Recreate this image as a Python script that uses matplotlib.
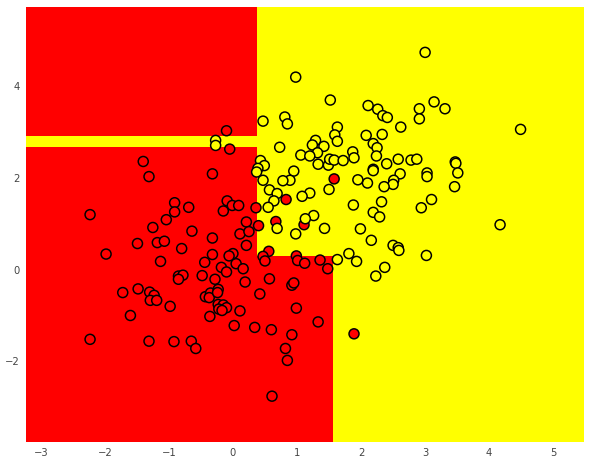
import numpy as np
import matplotlib
matplotlib.use('Agg')
import matplotlib.pyplot as plt
from matplotlib.colors import ListedColormap

# class 0 points (red)
red_x = [-0.10, -0.05, -1.40, -1.31, -0.32, -2.23, -0.91, -0.91, -0.69, -1.04,
         -1.25, -0.64, -0.15, -0.09, -0.01, 0.09, 0.21, 0.40, 0.36, 0.83,
         1.58, 0.67, 1.11, -0.32, -1.49, -1.18, -1.07, -0.80, -1.98, -0.32,
         -1.13, -0.44, -0.18, 0.11, 0.25, 0.21, 0.00, -0.06, 0.05, 0.16,
         -0.10, 0.56, 0.47, 0.50, 0.99, 1.01, 1.12, 1.36, 1.48, -0.85,
         -0.78, -0.85, -0.48, -0.28, 0.19, 0.57, 0.92, 0.95, -1.72, -1.48,
         -1.30, -1.23, -1.29, -1.19, -0.98, -1.60, -0.43, -0.35, -0.23, -0.37,
         -0.24, -0.23, -0.15, -0.10, -0.22, -0.17, -0.36, 0.11, 0.42, 0.99,
         0.02, 0.34, 0.60, 0.92, 1.33, -2.23, -1.31, -0.92, -0.65, -0.58,
         0.82, 0.85, 0.61, 1.89]
red_y = [3.03, 2.63, 2.36, 2.03, 2.09, 1.20, 1.46, 1.26, 1.36, 1.09,
         0.92, 0.84, 1.28, 1.50, 1.40, 1.40, 1.04, 0.96, 1.35, 1.53,
         1.98, 1.05, 0.98, 0.69, 0.57, 0.59, 0.62, 0.46, 0.34, 0.33,
         0.18, 0.16, 0.05, 0.78, 0.83, 0.53, 0.35, 0.30, 0.13, 0.02,
         -0.05, 0.40, 0.29, 0.19, 0.30, 0.20, 0.14, 0.21, 0.02, -0.14,
         -0.12, -0.21, -0.13, -0.21, -0.27, -0.20, -0.34, -0.29, -0.50, -0.42,
         -0.49, -0.56, -0.67, -0.67, -0.80, -1.00, -0.59, -0.51, -0.43, -0.61,
         -0.50, -0.76, -0.77, -0.83, -0.86, -0.89, -1.02, -0.90, -0.53, -0.84,
         -1.22, -1.26, -1.31, -1.42, -1.14, -1.52, -1.56, -1.57, -1.56, -1.72,
         -1.72, -1.98, -2.76, -1.40]

# class 1 points (yellow)
yel_x = [-0.27, -0.27, 0.98, 0.47, 0.81, 0.85, 0.73, 3.00, 1.52, 2.11,
         2.26, 2.34, 2.41, 2.62, 2.91, 2.91, 3.14, 3.31, 4.49, 1.63,
         1.59, 1.63, 2.08, 2.33, 2.19, 2.25, 2.24, 1.29, 1.24, 1.42,
         1.32, 1.06, 1.20, 1.33, 1.49, 1.51, 1.58, 1.72, 1.87, 1.89,
         2.40, 2.19, 2.19, 2.58, 2.78, 2.87, 2.61, 2.51, 2.50, 2.36,
         2.10, 1.95, 1.50, 3.03, 3.03, 3.47, 3.48, 3.51, 3.46, 3.10,
         2.94, 2.32, 2.19, 2.29, 1.88, 1.20, 1.08, 0.95, 0.89, 0.78,
         0.43, 0.49, 0.39, 0.37, 0.47, 0.57, 0.69, 0.64, 0.55, 1.26,
         1.13, 1.43, 1.99, 4.17, 0.98, 2.16, 2.50, 2.58, 2.59, 3.02,
         1.81, 1.63, 1.93, 2.37, 2.23, 0.69]
yel_y = [2.82, 2.71, 4.20, 3.24, 3.33, 3.18, 2.67, 4.74, 3.70, 3.58,
         3.50, 3.36, 3.32, 3.11, 3.51, 3.29, 3.66, 3.51, 3.06, 3.11,
         2.94, 2.80, 2.93, 2.95, 2.75, 2.66, 2.48, 2.82, 2.72, 2.69,
         2.55, 2.50, 2.48, 2.30, 2.28, 2.41, 2.39, 2.38, 2.57, 2.44,
         2.31, 2.19, 2.16, 2.41, 2.39, 2.41, 2.09, 1.95, 1.86, 1.81,
         1.89, 1.96, 1.75, 2.11, 2.03, 2.35, 2.32, 2.11, 1.81, 1.53,
         1.35, 1.48, 1.25, 1.15, 1.41, 1.67, 1.60, 2.15, 1.95, 1.94,
         2.38, 2.27, 2.21, 2.13, 1.95, 1.74, 1.66, 1.50, 1.36, 1.18,
         1.11, 0.90, 0.89, 0.98, 0.78, 0.64, 0.53, 0.48, 0.42, 0.31,
         0.35, 0.22, 0.18, 0.05, -0.14, 0.90]

# tree splits
split_x1 = 0.37
split_x2 = 1.55
split_y_low = 0.29
strip_y = (2.67, 2.91)

X = np.column_stack([red_x + yel_x, red_y + yel_y])
y = np.array([0] * len(red_x) + [1] * len(yel_x))


def predict(px, py):
    left = px <= split_x1
    in_strip = (py > strip_y[0]) & (py <= strip_y[1])
    out = np.where(left, np.where(in_strip, 1, 0),
                   np.where((py <= split_y_low) & (px <= split_x2), 0, 1))
    return out


h = 0.01
x_min, x_max = X[:, 0].min() - 1, X[:, 0].max() + 1
y_min, y_max = X[:, 1].min() - 1, X[:, 1].max() + 1
xx, yy = np.meshgrid(np.arange(x_min, x_max, h), np.arange(y_min, y_max, h))
Z = predict(xx, yy)

cmap = ListedColormap(['#FF0000', '#FFFF00'])

fig = plt.figure(figsize=(590 / 72, 465 / 72), dpi=72)
ax = fig.add_axes([26 / 590, 23 / 465, 558 / 590, 435 / 465])
ax.pcolormesh(xx, yy, Z, cmap=cmap, shading='auto')
ax.scatter(X[:, 0], X[:, 1], c=y, cmap=cmap, s=100,
           edgecolors='black', linewidths=1.5, zorder=3)
ax.set_xlim(xx.min(), xx.max())
ax.set_ylim(yy.min(), yy.max())
ax.set_xticks(np.arange(-3, 6, 1))
ax.set_yticks([-2, 0, 2, 4])
ax.tick_params(length=0, pad=6, labelsize=10, colors='#444444')
for s in ax.spines.values():
    s.set_visible(False)

plt.savefig('out.png', dpi=72)
